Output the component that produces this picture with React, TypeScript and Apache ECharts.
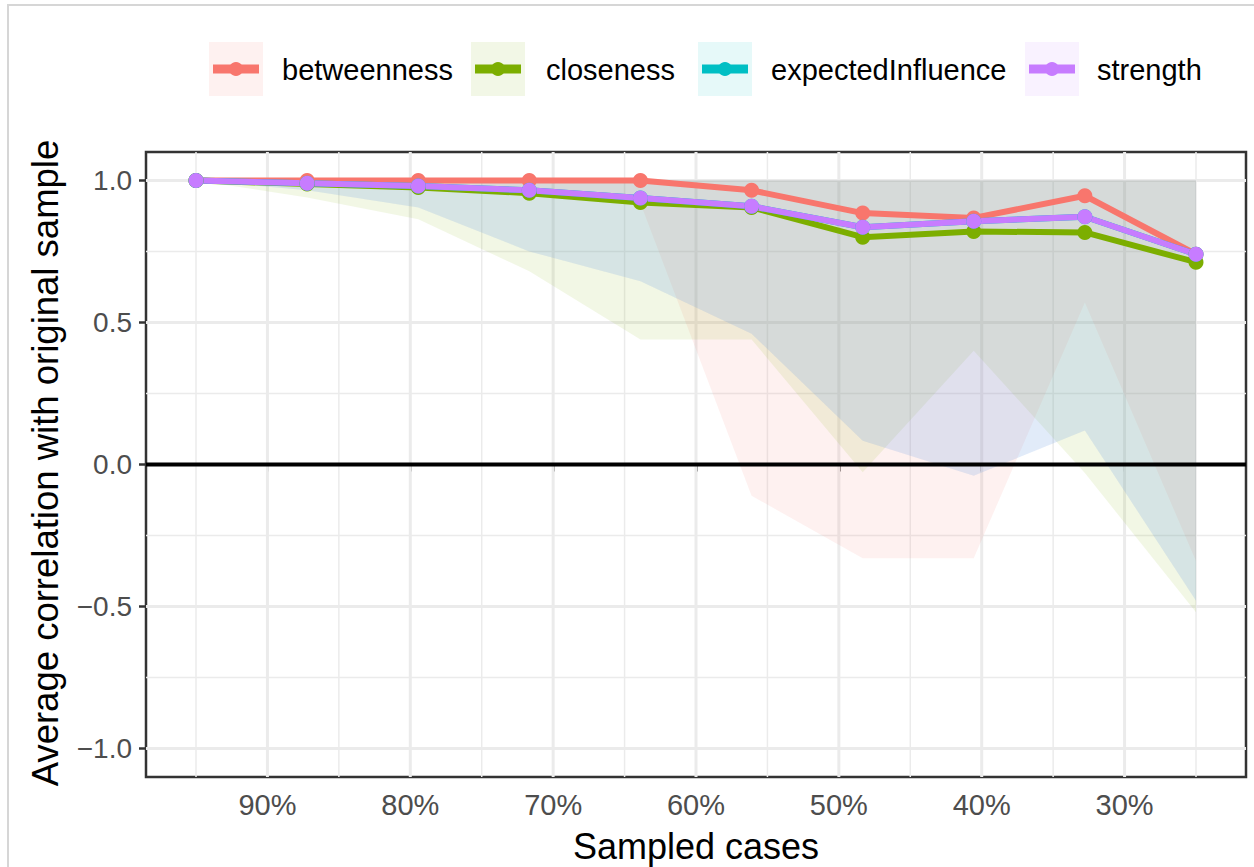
import React, { useEffect, useRef } from "react";
import * as echarts from "echarts";

// ---- data ----
const sampledCases = [95, 87.22, 79.44, 71.67, 63.89, 56.11, 48.33, 40.56, 32.78, 25];
const measures = ["betweenness", "closeness", "expectedInfluence", "strength"];
const colors = ["#F8766D", "#7CAE00", "#00BFC4", "#C77CFF"];
const keyFills = ["#FEF1F0", "#F2F7E6", "#E6F9F9", "#F9F2FF"];

const betweenness = [1.0, 1.0, 1.0, 1.0, 1.0, 0.965, 0.885, 0.868, 0.946, 0.74];
const closeness = [1.0, 0.987, 0.975, 0.955, 0.922, 0.905, 0.8, 0.82, 0.817, 0.712];
const expectedInfluence = [1.0, 0.99, 0.98, 0.965, 0.938, 0.909, 0.835, 0.856, 0.872, 0.74];
const strength = [1.0, 0.99, 0.98, 0.965, 0.938, 0.909, 0.835, 0.856, 0.872, 0.74];

const betweennessLower = [1.0, 0.99, 0.98, 0.96, 0.92, -0.11, -0.33, -0.33, 0.57, -0.34];
const betweennessUpper = [1, 1, 1, 1, 1, 1, 1, 1, 1, 1];
const closenessLower = [1.0, 0.94, 0.863, 0.68, 0.44, 0.44, -0.027, 0.4, -0.03, -0.52];
const closenessUpper = [1, 1, 1, 1, 1, 1, 1, 1, 1, 1];
const expectedInfluenceLower = [1.0, 0.965, 0.905, 0.75, 0.645, 0.46, 0.084, -0.04, 0.12, -0.48];
const expectedInfluenceUpper = [1, 1, 1, 1, 1, 1, 1, 1, 1, 1];
const strengthLower = [1.0, 0.965, 0.905, 0.75, 0.645, 0.46, 0.084, -0.04, 0.12, -0.48];
const strengthUpper = [1, 1, 1, 1, 1, 1, 1, 1, 1, 1];

const xTicks = [90, 80, 70, 60, 50, 40, 30];
const xMinor = [95, 85, 75, 65, 55, 45, 35, 25];
const yTicks = [-1, -0.5, 0, 0.5, 1];
const yMinor = [-0.75, -0.25, 0.25, 0.75];

const FONT = "'Liberation Sans', Arial, sans-serif";

function hexToRgba(hex: string, a: number) {
  const r = parseInt(hex.slice(1, 3), 16);
  const g = parseInt(hex.slice(3, 5), 16);
  const b = parseInt(hex.slice(5, 7), 16);
  return `rgba(${r},${g},${b},${a})`;
}

export default function App() {
  const ref = useRef<HTMLDivElement>(null);

  useEffect(() => {
    if (!ref.current) return;
    const chart = echarts.init(ref.current, undefined, { renderer: "svg" });

    const values = [betweenness, closeness, expectedInfluence, strength];
    const lowers = [betweennessLower, closenessLower, expectedInfluenceLower, strengthLower];
    const uppers = [betweennessUpper, closenessUpper, expectedInfluenceUpper, strengthUpper];

    const gridSeries: any = {
      type: "custom",
      z: 1,
      silent: true,
      clip: false,
      data: [[60, 0]],
      renderItem: (params: any, api: any) => {
        if (params.dataIndex !== 0) return null;
        const cs = params.coordSys;
        const children: any[] = [];
        const hline = (v: number, w: number) => {
          const y = api.coord([60, v])[1];
          children.push({
            type: "line",
            shape: { x1: cs.x, y1: y, x2: cs.x + cs.width, y2: y },
            style: { stroke: "#EBEBEB", lineWidth: w },
          });
        };
        const vline = (v: number, w: number) => {
          const x = api.coord([v, 0])[0];
          children.push({
            type: "line",
            shape: { x1: x, y1: cs.y, x2: x, y2: cs.y + cs.height },
            style: { stroke: "#EBEBEB", lineWidth: w },
          });
        };
        yMinor.forEach((v) => hline(v, 1.5));
        xMinor.forEach((v) => vline(v, 1.5));
        yTicks.forEach((v) => hline(v, 3));
        xTicks.forEach((v) => vline(v, 3));
        return { type: "group", children };
      },
    };

    const ribbonSeries: any[] = measures.map((name, k) => ({
      type: "custom",
      name: name + " band",
      z: 2,
      silent: true,
      clip: true,
      data: sampledCases.map((x, i) => [x, lowers[k][i], uppers[k][i]]),
      encode: { x: 0, y: [1, 2] },
      renderItem: (params: any, api: any) => {
        if (params.dataIndex !== 0) return null;
        const pts: number[][] = [];
        for (let i = 0; i < sampledCases.length; i++) pts.push(api.coord([sampledCases[i], uppers[k][i]]));
        for (let i = sampledCases.length - 1; i >= 0; i--) pts.push(api.coord([sampledCases[i], lowers[k][i]]));
        return {
          type: "polygon",
          shape: { points: pts },
          style: { fill: hexToRgba(colors[k], 0.1), stroke: "none" },
        };
      },
    }));

    const zeroSeries: any = {
      type: "custom",
      z: 3,
      silent: true,
      clip: false,
      data: [[60, 0]],
      renderItem: (params: any, api: any) => {
        if (params.dataIndex !== 0) return null;
        const cs = params.coordSys;
        const y = api.coord([60, 0])[1];
        return {
          type: "line",
          shape: { x1: cs.x, y1: y, x2: cs.x + cs.width, y2: y },
          style: { stroke: "#000000", lineWidth: 4 },
        };
      },
    };

    const lineSeries: any[] = measures.map((name, k) => ({
      type: "line",
      name,
      z: 4,
      data: sampledCases.map((x, i) => [x, values[k][i]]),
      symbol: "circle",
      symbolSize: 15,
      showSymbol: true,
      lineStyle: { color: colors[k], width: 6 },
      itemStyle: { color: colors[k] },
      silent: true,
    }));

    // legend graphics
    const legendKeys = [
      { kx: 209, tx: 282 },
      { kx: 471, tx: 546 },
      { kx: 698, tx: 771 },
      { kx: 1025, tx: 1097 },
    ];
    const legendChildren: any[] = [];
    measures.forEach((name, k) => {
      const { kx, tx } = legendKeys[k];
      legendChildren.push({
        type: "rect",
        shape: { x: kx, y: 42, width: 54, height: 54 },
        style: { fill: keyFills[k] },
      });
      legendChildren.push({
        type: "line",
        shape: { x1: kx + 4, y1: 69, x2: kx + 50, y2: 69 },
        style: { stroke: colors[k], lineWidth: 9 },
      });
      legendChildren.push({
        type: "circle",
        shape: { cx: kx + 27, cy: 69, r: 7 },
        style: { fill: colors[k] },
      });
      legendChildren.push({
        type: "text",
        x: tx,
        y: 70,
        style: {
          text: name,
          fontSize: 29,
          fontFamily: FONT,
          fill: "#000000",
          textAlign: "left",
          textVerticalAlign: "middle",
        },
      });
    });

    const option: any = {
      animation: false,
      backgroundColor: "#ffffff",
      grid: {
        left: 146,
        right: 8,
        top: 152,
        bottom: 90,
        show: true,
        borderColor: "#333333",
        borderWidth: 2.5,
        backgroundColor: "transparent",
        containLabel: false,
      },
      xAxis: {
        type: "value",
        inverse: true,
        min: 21.5,
        max: 98.5,
        axisLine: { show: false },
        splitLine: { show: false },
        axisTick: {
          show: true,
          customValues: xTicks,
          length: 7,
          lineStyle: { color: "#333333", width: 2.5 },
        },
        axisLabel: {
          customValues: xTicks,
          formatter: (v: number) => `${Math.round(v)}%`,
          color: "#4D4D4D",
          fontSize: 29,
          fontFamily: FONT,
          margin: 13,
        },
      },
      yAxis: {
        type: "value",
        min: -1.1,
        max: 1.1,
        axisLine: { show: false },
        splitLine: { show: false },
        axisTick: {
          show: true,
          customValues: yTicks,
          length: 7,
          lineStyle: { color: "#333333", width: 2.5 },
        },
        axisLabel: {
          customValues: yTicks,
          formatter: (v: number) => (v < 0 ? "\u2212" : "") + Math.abs(v).toFixed(1),
          color: "#4D4D4D",
          fontSize: 28,
          fontFamily: FONT,
          margin: 14,
        },
      },
      graphic: [
        {
          type: "rect",
          silent: true,
          shape: { x: 8, y: 5, width: 1400, height: 1000 },
          style: { fill: "none", stroke: "#D6D6D6", lineWidth: 2 },
        },
        { type: "group", children: legendChildren },
        {
          type: "text",
          x: 696,
          y: 846,
          style: {
            text: "Sampled cases",
            fontSize: 36,
            fontFamily: FONT,
            fill: "#000000",
            textAlign: "center",
            textVerticalAlign: "middle",
          },
        },
        {
          type: "text",
          x: 45,
          y: 463,
          rotation: Math.PI / 2,
          style: {
            text: "Average correlation with original sample",
            fontSize: 36.5,
            fontFamily: FONT,
            fill: "#000000",
            textAlign: "center",
            textVerticalAlign: "middle",
          },
        },
      ],
      series: [gridSeries, ...ribbonSeries, zeroSeries, ...lineSeries],
    };

    chart.setOption(option);
    return () => {
      chart.dispose();
    };
  }, []);

  return (
    <div
      ref={ref}
      style={{ position: "absolute", left: 0, top: 0, width: 1254, height: 867 }}
    />
  );
}
